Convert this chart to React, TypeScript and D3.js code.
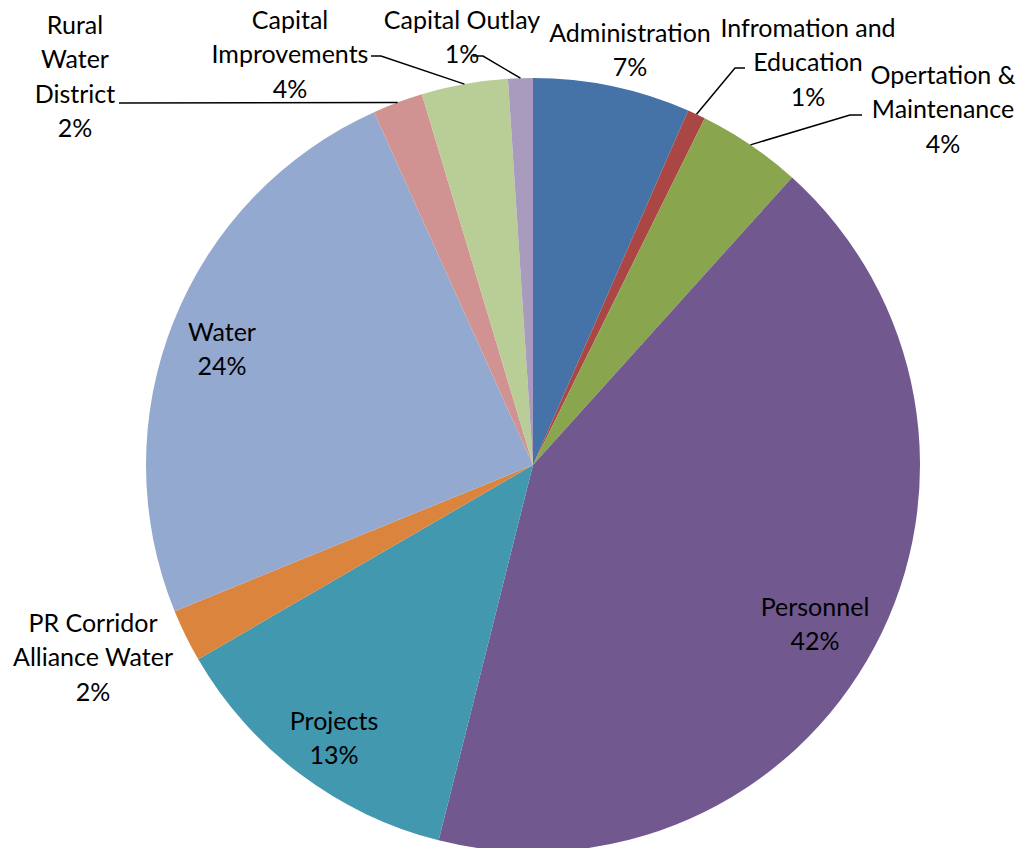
import { useEffect, useRef } from "react";
import * as d3 from "d3";

const categories = [
  "Administration",
  "Infromation and\nEducation",
  "Opertation &\nMaintenance",
  "Personnel",
  "Projects",
  "PR Corridor\nAlliance Water",
  "Water",
  "Rural\nWater\nDistrict",
  "Capital\nImprovements",
  "Capital Outlay",
];
const values = [6.56, 0.75, 4.35, 42.2, 12.7, 2.2, 24.4, 2.1, 3.6, 1.03];
const colors = [
  "#4572A7",
  "#AA4643",
  "#89A54E",
  "#71588F",
  "#4198AF",
  "#DB843D",
  "#93A9CF",
  "#D19392",
  "#B9CD96",
  "#A99BBD",
];

// label placement: text centre x, first line y, optional leader start + elbow
const labelLayout = [
  { x: 630, y: 33 },
  { x: 808, y: 28, leader: [[745, 68], [735, 68]] },
  { x: 943, y: 75, leader: [[862, 115], [850, 115]] },
  { x: 815, y: 607 },
  { x: 334, y: 721 },
  { x: 93, y: 623 },
  { x: 222, y: 332 },
  { x: 75, y: 25, leader: [[119, 103]] },
  { x: 290, y: 20, leader: [[371, 56], [381, 56]] },
  { x: 462, y: 20, leader: [[473, 56], [483, 56]] },
];

const W = 1023;
const H = 848;

export default function App() {
  const ref = useRef<SVGSVGElement>(null);

  useEffect(() => {
    if (!ref.current) return;
    const svg = d3.select(ref.current);
    svg.selectAll("*").remove();

    const cx = 533;
    const cy = 465;
    const radius = 387;
    const total = d3.sum(values);

    const pie = d3.pie<number>().sort(null).value((d) => d);
    const arcs = pie(values);
    const arc = d3.arc<d3.PieArcDatum<number>>().innerRadius(0).outerRadius(radius);

    const g = svg.append("g").attr("transform", `translate(${cx},${cy})`);

    g.selectAll("path")
      .data(arcs)
      .enter()
      .append("path")
      .attr("d", arc)
      .attr("fill", (_, i) => colors[i]);

    // leader lines
    arcs.forEach((a, i) => {
      const lay = labelLayout[i];
      if (!lay.leader) return;
      const mid = (a.startAngle + a.endAngle) / 2;
      const end: [number, number] = [cx + radius * Math.sin(mid), cy - radius * Math.cos(mid)];
      const pts = [...(lay.leader as [number, number][]), end];
      svg
        .append("path")
        .attr("d", d3.line()(pts))
        .attr("fill", "none")
        .attr("stroke", "#000")
        .attr("stroke-width", 1.5);
    });

    // labels
    const lineH = 34.5;
    arcs.forEach((a, i) => {
      const lay = labelLayout[i];
      const lines = categories[i].split("\n");
      lines.push(Math.round((a.value / total) * 100) + "%");
      const t = svg
        .append("text")
        .attr("text-anchor", "middle")
        .attr("font-family", "Lato, 'Open Sans', sans-serif")
        .attr("font-size", 25)
        .attr("fill", "#000");
      lines.forEach((l, j) => {
        t.append("tspan")
          .attr("x", lay.x)
          .attr("y", lay.y + j * lineH)
          .attr("dy", "0.35em")
          .text(l);
      });
    });
  }, []);

  return (
    <svg
      ref={ref}
      width={W}
      height={H}
      style={{ position: "absolute", left: 0, top: 0, background: "#fff" }}
    />
  );
}
